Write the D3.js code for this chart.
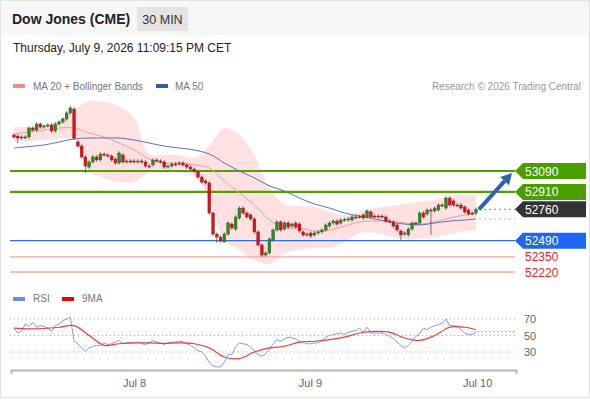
<!DOCTYPE html>
<html><head><meta charset="utf-8">
<script src="https://cdn.jsdelivr.net/npm/d3@7"></script>
<style>
html,body{margin:0;padding:0;background:#fff;}
svg{display:block;font-family:"Liberation Sans",Arial,Helvetica,sans-serif;}
</style></head>
<body>
<svg id="chart" width="590" height="400"></svg>
<script>
// ---------- DATA ----------
const title = "Dow Jones (CME)";
const interval = "30 MIN";
const dateText = "Thursday, July 9, 2026 11:09:15 PM CET";
const copyright = "Research \u00a9 2026 Trading Central";

const opens = [53400,53391,53374,53383,53383,53460,53443,53495,53469,53478,53486,53435,53495,53512,53538,53590,53624,53340,53305,53211,
53124,53168,53211,53185,53236,53228,53219,53193,53159,53228,53168,53176,53176,53168,53176,53168,53133,53142,53185,53176,
53168,53124,53133,53150,53150,53159,53142,53124,53107,53081,53038,53004,52987,52728,52547,52521,52478,52547,52633,52590,
52685,52771,52728,52711,52677,52565,52453,52366,52384,52496,52582,52651,52590,52642,52616,52642,52633,52565,52539,52556,
52539,52556,52565,52582,52616,52642,52659,52642,52668,52668,52668,52694,52694,52711,52694,52737,52702,52702,52702,52694,
52659,52651,52625,52573,52547,52539,52590,52642,52642,52728,52720,52754,52746,52754,52797,52771,52857,52832,52797,52797,
52780,52754,52728,52728];
const closes = [53383,53374,53383,53379,53460,53443,53495,53469,53478,53486,53435,53495,53512,53538,53590,53633,53374,53305,53211,53133,
53168,53211,53185,53236,53228,53219,53185,53159,53245,53168,53176,53172,53168,53176,53168,53133,53129,53185,53176,53168,
53124,53133,53150,53146,53159,53142,53124,53107,53090,53038,52995,52987,52728,52547,52521,52487,52547,52642,52599,52694,
52771,52728,52694,52677,52565,52453,52366,52384,52504,52582,52651,52582,52642,52608,52633,52608,52573,52539,52547,52530,
52556,52565,52582,52625,52642,52659,52633,52668,52672,52677,52694,52689,52698,52685,52746,52694,52698,52698,52694,52659,
52655,52616,52582,52539,52556,52590,52642,52638,52728,52694,52754,52746,52771,52797,52793,52857,52797,52797,52793,52771,
52737,52720,52724,52760];
const highs = [53415,53406,53398,53398,53475,53475,53510,53510,53493,53501,53501,53510,53527,53553,53605,53650,53639,53355,53320,53226,
53183,53226,53226,53251,53251,53243,53234,53208,53260,53243,53191,53191,53191,53191,53191,53183,53148,53200,53200,53191,
53183,53148,53165,53165,53174,53174,53157,53139,53122,53096,53053,53019,53002,52743,52562,52536,52562,52657,52648,52709,
52786,52786,52743,52726,52692,52580,52468,52399,52519,52597,52666,52666,52657,52657,52648,52657,52648,52580,52562,52571,
52571,52580,52597,52640,52657,52674,52674,52683,52687,52692,52709,52709,52713,52726,52761,52752,52717,52717,52717,52709,
52674,52666,52640,52588,52571,52605,52657,52657,52743,52743,52769,52769,52786,52812,52812,52872,52872,52847,52812,52812,
52795,52769,52743,52775];
const lows = [53368,53331,53359,53364,53368,53428,53428,53454,53454,53463,53420,53420,53480,53497,53523,53575,53359,53290,53196,53073,
53109,53153,53170,53170,53213,53204,53170,53144,53144,53153,53153,53157,53153,53153,53153,53118,53110,53127,53161,53153,
53109,53109,53118,53131,53135,53127,53109,53092,53075,53023,52980,52972,52713,52532,52470,52472,52470,52532,52584,52575,
52670,52713,52679,52662,52550,52438,52349,52351,52369,52481,52567,52567,52575,52593,52601,52593,52558,52524,52524,52515,
52524,52541,52550,52567,52601,52627,52618,52627,52653,52653,52653,52674,52679,52670,52679,52679,52683,52683,52679,52644,
52640,52601,52567,52496,52532,52524,52575,52623,52627,52679,52705,52539,52731,52739,52778,52756,52782,52782,52778,52756,
52722,52705,52709,52713];

// indicator samples (candle index where each value was read)
const sampleIdx = [0,4,8,12,16,20,24,28,32,36,40,44,48,52,56,60,64,68,72,76,80,84,88,92,96,100,104,108,112,116,120,123];
const bbUpper = [53469,53469,53478,53529,53615,53693,53684,53650,53546,53236,53228,53228,53202,53305,53460,53400,53228,52944,52806,52789,52780,52737,52711,52737,52771,52789,52806,52823,52840,52875,52883,52883];
const bbLower = [53348,53348,53357,53366,53357,53090,53030,52995,52995,53081,53081,53081,53047,52840,52496,52410,52323,52289,52384,52410,52427,52427,52478,52556,52556,52530,52504,52504,52521,52547,52573,52582];
const ma20 = [53409,53426,53443,53460,53460,53417,53383,53331,53271,53193,53159,53159,53142,53116,53004,52901,52797,52668,52599,52599,52573,52582,52616,52651,52659,52659,52642,52633,52651,52685,52711,52720];
const ma50 = [53288,53301,53314,53340,53366,53374,53374,53374,53357,53331,53305,53288,53271,53236,53159,53090,53030,52961,52918,52857,52806,52771,52728,52702,52677,52651,52633,52625,52642,52659,52668,52677];
const rsiMa9 = [59,58,58.5,60,62,50,38,40,41,41,40.5,41,40,35,24,22,30,35,37,42,43,45,48,53,55,54,47,44,50,60,60,57];

const rsi = [59,53,55,64,61,66,60,62,61,59,55,62,64,68,70,72,43,40,35,31,
35,37,38,38,41,39,40,42,44,40,41,41,41,42,40,39,41,44,42,41,
39,41,42,42,43.5,42,40,38,35,32,30,25,17,13,12,12,18,27,27,36,
41,40,39,36,31,27,25,28,33,40,45,43,46,48,47,46,43,42,40,40,
41,41,44,48,50,51,52,53,51,54,55,56,59,54,60,53,53,53,53,51,
49,46,42,38,35,38,43,49,52,59,57,60,62,63,65,70,62,62,61,57,
53,51,51,54.6];

const levels = [
  {v:53090, kind:"res"},
  {v:52910, kind:"res"},
  {v:52760, kind:"last"},
  {v:52490, kind:"sup"},
  {v:52350, kind:"sup2"},
  {v:52220, kind:"sup2"}
];
const dayTicks = [31.95, 78.8, 123.3];
const dayLabels = ["Jul 8", "Jul 9", "Jul 10"];
const rsiTicks = [70, 50, 30];

// ---------- DRAW ----------
const svg = d3.select("#chart");
const W = 590, H = 400;

const x = d3.scaleLinear().domain([-0.8, 133.65]).range([11, 516]);
const y = d3.scaleLinear().domain([52220, 53090]).range([272, 171]);
const yr = d3.scaleLinear().domain([30, 70]).range([352, 319]);

// frame & header
svg.append("rect").attr("x",0.5).attr("y",0.5).attr("width",W-1).attr("height",H-3)
  .attr("fill","#fff").attr("stroke","#e2e2e2");
svg.append("rect").attr("x",1).attr("y",1).attr("width",W-2).attr("height",34).attr("fill","#f7f7f7");
svg.append("text").attr("x",12).attr("y",24).attr("font-size",14).attr("font-weight","bold")
  .attr("fill","#222").text(title);
svg.append("rect").attr("x",137).attr("y",7).attr("width",51).attr("height",24).attr("fill","#e4e4e4");
svg.append("text").attr("x",162.5).attr("y",24).attr("text-anchor","middle").attr("font-size",12.5)
  .attr("fill","#333").text(interval);
svg.append("text").attr("x",13).attr("y",52).attr("font-size",12).attr("fill","#222").text(dateText);

// legends
svg.append("rect").attr("x",13).attr("y",84).attr("width",12).attr("height",4).attr("fill","#f88a8a");
svg.append("text").attr("x",33).attr("y",90).attr("font-size",10).attr("fill","#777").text("MA 20 + Bollinger Bands");
svg.append("rect").attr("x",156).attr("y",84).attr("width",12).attr("height",4).attr("fill","#2f5ea8");
svg.append("text").attr("x",175).attr("y",90).attr("font-size",10).attr("fill","#777").text("MA 50");
svg.append("text").attr("x",581).attr("y",90).attr("text-anchor","end").attr("font-size",10).attr("fill","#999").text(copyright);

// Bollinger band area
const bandData = sampleIdx.map((d,i)=>({i:d, up:bbUpper[i], lo:bbLower[i], m20:ma20[i], m50:ma50[i], rm:rsiMa9[i]}));
svg.append("path").datum(bandData)
  .attr("d", d3.area().x(d=>x(d.i)).y0(d=>y(d.lo)).y1(d=>y(d.up)).curve(d3.curveCatmullRom.alpha(0.5)))
  .attr("fill","#ffe1e1");

// levels lines
const xl0 = 10, xl1 = 515;
const lvlColor = {res:"#4f9f05", sup:"#2d6fe0", sup2:"#f6aaaa"};
levels.forEach(l=>{
  if (l.kind==="last") return;
  svg.append("line").attr("x1",xl0).attr("x2",xl1).attr("y1",y(l.v)).attr("y2",y(l.v))
    .attr("stroke",lvlColor[l.kind]).attr("stroke-width", l.kind==="res"?2.2:1.4);
});

// MA lines
svg.append("path").datum(bandData)
  .attr("d", d3.line().x(d=>x(d.i)).y(d=>y(d.m20)).curve(d3.curveCatmullRom.alpha(0.5)))
  .attr("fill","none").attr("stroke","#f59a9a").attr("stroke-width",1);
svg.append("path").datum(bandData)
  .attr("d", d3.line().x(d=>x(d.i)).y(d=>y(d.m50)).curve(d3.curveCatmullRom.alpha(0.5)))
  .attr("fill","none").attr("stroke","#5577b5").attr("stroke-width",1);

// candles
const candles = closes.map((c,i)=>({i, o:opens[i], h:highs[i], l:lows[i], c}));
const cg = svg.append("g");
cg.selectAll("line.wick").data(candles).join("line")
  .attr("x1",d=>x(d.i)).attr("x2",d=>x(d.i)).attr("y1",d=>y(d.h)).attr("y2",d=>y(d.l))
  .attr("stroke","#555").attr("stroke-width",0.8);
const bw = 2.8;
cg.selectAll("rect.body").data(candles).join("rect")
  .attr("x",d=>x(d.i)-bw/2).attr("width",bw)
  .attr("y",d=>y(Math.max(d.o,d.c)))
  .attr("height",d=>Math.max(1, Math.abs(y(d.o)-y(d.c))))
  .attr("fill",d=>d.c>=d.o?"#2f8a25":"#d8141a")
  .attr("stroke",d=>d.c>=d.o?"#1f5e18":"#9c0e12").attr("stroke-width",0.4);

// dotted extensions
const lastI = closes.length-1;
svg.append("line").attr("x1",x(lastI)+3).attr("x2",xl1).attr("y1",y(closes[lastI])).attr("y2",y(closes[lastI]))
  .attr("stroke","#888").attr("stroke-dasharray","2,3").attr("stroke-width",1);
svg.append("line").attr("x1",x(lastI)+3).attr("x2",xl1).attr("y1",y(ma50[ma50.length-1])).attr("y2",y(ma50[ma50.length-1]))
  .attr("stroke","#9db3e0").attr("stroke-dasharray","2,3").attr("stroke-width",1);

// arrow
const ax0 = x(lastI)+3, ay0 = y(closes[lastI]), ax1 = 512, ay1 = y(levels[0].v)+2;
const ang = Math.atan2(ay1-ay0, ax1-ax0);
const hl = 11, hw = 6;
const bx = ax1 - hl*Math.cos(ang), by = ay1 - hl*Math.sin(ang);
svg.append("line").attr("x1",ax0).attr("y1",ay0).attr("x2",bx).attr("y2",by)
  .attr("stroke","#2f62a6").attr("stroke-width",4);
svg.append("polygon").attr("points",[
  [ax1,ay1],
  [bx + hw*Math.sin(ang), by - hw*Math.cos(ang)],
  [bx - hw*Math.sin(ang), by + hw*Math.cos(ang)]
].map(p=>p.join(",")).join(" ")).attr("fill","#2f62a6");

// tags
const tagFill = {res:"#4a9e00", last:"#333333", sup:"#1f66f2"};
levels.forEach(l=>{
  const cy = y(l.v);
  if (l.kind==="sup2") {
    svg.append("text").attr("x",525).attr("y",cy+4.5).attr("font-size",12).attr("fill","#ee2020").text(l.v);
    return;
  }
  svg.append("polygon").attr("points",`515,${cy} 523,${cy-8} 586,${cy-8} 586,${cy+8} 523,${cy+8}`)
    .attr("fill",tagFill[l.kind]);
  svg.append("text").attr("x",525).attr("y",cy+4.5).attr("font-size",12).attr("fill","#fff").text(l.v);
});

// RSI panel
svg.append("rect").attr("x",13).attr("y",297).attr("width",12).attr("height",4).attr("fill","#6a8ee8");
svg.append("text").attr("x",33).attr("y",302).attr("font-size",10).attr("fill","#777").text("RSI");
svg.append("rect").attr("x",62).attr("y",297).attr("width",12).attr("height",4).attr("fill","#f00");
svg.append("text").attr("x",82).attr("y",302).attr("font-size",10).attr("fill","#777").text("9MA");

rsiTicks.forEach(t=>{
  svg.append("line").attr("x1",xl0).attr("x2",xl1).attr("y1",yr(t)).attr("y2",yr(t))
    .attr("stroke","#aaa").attr("stroke-dasharray","1,3").attr("stroke-width",1);
  svg.append("text").attr("x",524).attr("y",yr(t)+4).attr("font-size",11).attr("fill","#666").text(t);
});

svg.append("path").datum(rsi)
  .attr("d", d3.line().x((d,i)=>x(i)).y(d=>yr(d)))
  .attr("fill","none").attr("stroke","#7d9df0").attr("stroke-width",1);
svg.append("path").datum(bandData)
  .attr("d", d3.line().x(d=>x(d.i)).y(d=>yr(d.rm)).curve(d3.curveCatmullRom.alpha(0.5)))
  .attr("fill","none").attr("stroke","#f23a3a").attr("stroke-width",1.2);
svg.append("line").attr("x1",x(lastI)+1).attr("x2",xl1).attr("y1",yr(rsi[lastI])).attr("y2",yr(rsi[lastI]))
  .attr("stroke","#9db3e8").attr("stroke-dasharray","2,2").attr("stroke-width",1);

// x axis
const axis = d3.axisBottom(x).tickValues(dayTicks).tickFormat((d,i)=>dayLabels[i])
  .tickSizeInner(0).tickSizeOuter(4).tickPadding(9);
const ag = svg.append("g").attr("transform","translate(0,370)").call(axis);
ag.select(".domain").attr("stroke","#b5b5b5").attr("stroke-width",2);
ag.selectAll("text").attr("font-size",11).attr("fill","#666")
  .attr("font-family","'Liberation Sans',Arial,sans-serif");
</script>
</body></html>
